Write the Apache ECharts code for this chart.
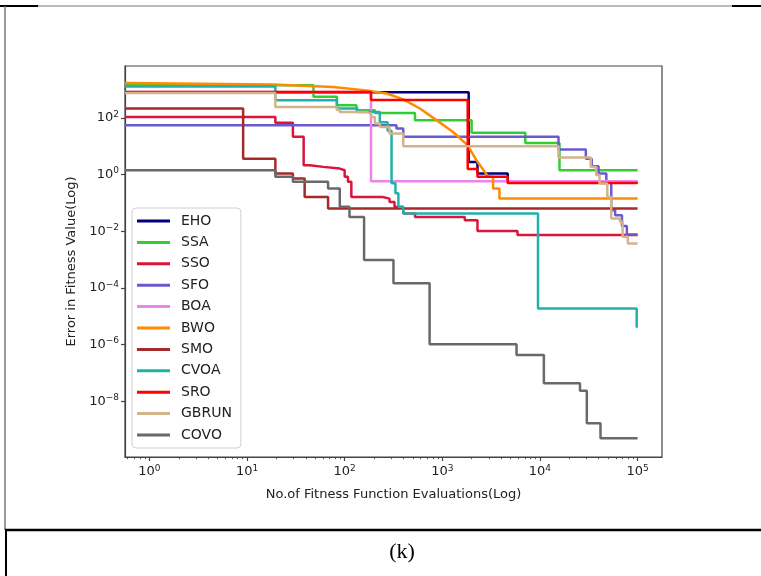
<!DOCTYPE html>
<html><head><meta charset="utf-8">
<script src="https://cdn.jsdelivr.net/npm/echarts@6/dist/echarts.min.js"></script>
<style>html,body{margin:0;padding:0;background:#fff}#c{width:761px;height:576px}</style>
</head><body><div id="c"></div>
<script>
// ---- data (x = fitness evaluations, y = error) ----
const names = ['EHO','SSA','SSO','SFO','BOA','BWO','SMO','CVOA','SRO','GBRUN','COVO'];
const colors = ['#000080','#32CD32','#DC143C','#6A5ACD','#EE82EE','#FF8C00','#A52A2A','#20B2AA','#FF0000','#D2B48C','#696969'];
const EHO  = [[0.5623,794],[1862,2.75],[2291,1.08],[4677,0.525],[100000,0.525]];
const SSA  = [[0.5623,1413],[47.9,550],[83.2,277],[132,186],[204,148],[525,83],[1995,29.5],[7079,13],[15849,1.41],[100000,1.41]];
const SSO  = [[0.5623,107],[19.5,67.6],[29.5,21.4],[38,2.14],[44,1.86],[60.3,1.62],[89,1.41],[100,0.83],[108,0.55],[117,0.162],[245,0.141],[288,0.107],[324,0.072],[398,0.0417],[525,0.0316],[1698,0.0245],[2291,0.0102],[5888,0.0074],[100000,0.0074]];
const SFO  = [[0.5623,55],[339,41.7],[398,21.4],[15488,7.6],[29512,3.63],[33884,1.95],[39811,1.08],[47863,0.55],[53703,0.055],[58884,0.0363],[69183,0.0151],[77625,0.0076],[100000,0.0076]];
const BOA  = [[0.5623,813],[186,0.575],[100000,0.575]];
const BWO  = [[0.5623,1698],[18.6,1514],[75.9,1230],[166,933],[269,724],[398,447],[589,214],[871,83.2],[1288,31.6],[1820,10.7],[2239,3.16],[2951,0.83],[3311,0.83],[3311,0.324],[3846,0.324],[3846,0.141],[100000,0.141]];
const SMO  = [[0.5623,214],[9.12,3.63],[19.5,1.08],[29.5,0.72],[38.9,0.162],[67.6,0.063],[100000,0.063]];
const CVOA = [[0.5623,1288],[19.5,417],[83.2,214],[135,162],[229,70],[275,35],[302,0.49],[331,0.219],[355,0.0724],[398,0.0417],[9550,1.86e-5],[97950,4.17e-6],[100000,4.17e-6]];
const SRO  = [[0.5623,813],[186,427],[1820,1.55],[2291,0.83],[4677,0.50],[100000,0.50]];
const GBRUN= [[0.5623,759],[19.5,240],[83,195],[89,162],[166,141],[186,107],[204,63],[229,48],[288,28.2],[398,10],[15488,3.98],[33113,1.86],[37600,0.955],[40738,0.48],[48978,0.162],[53703,0.0282],[66069,0.0214],[70300,0.0063],[79433,0.0037],[100000,0.0037]];
const COVO = [[0.5623,1.41],[19.5,0.83],[29.5,0.55],[67.6,0.324],[89.1,0.0724],[112,0.0316],[158,9.55e-4],[316,1.45e-4],[741,1.02e-6],[5754,4.27e-7],[10965,4.27e-8],[25704,2.34e-8],[30200,1.66e-9],[41687,4.9e-10],[100000,4.9e-10]];
const stepped = [true,true,true,true,true,false,true,true,true,true,true];

const xTicks = [1,10,100,1000,10000,100000];
const yTicks = [1e-8,1e-6,1e-4,1e-2,1,100];
const xMinorSubs = [2,3,4,5,6,7,8,9];
const xRange = [Math.pow(10,-0.25), Math.pow(10,5.25)];
const yRange = [Math.pow(10,-9.97), Math.pow(10,3.83)];

const allData = [EHO,SSA,SSO,SFO,BOA,BWO,SMO,CVOA,SRO,GBRUN,COVO];
const xMinor = [];
[0.1,1,10,100,1000,10000,100000].forEach(d => xMinorSubs.forEach(s => { const v = d*s; if (v > xRange[0] && v < xRange[1]) xMinor.push(v); }));

const FONT = 'DejaVu Sans';
const supMap = {'0':'⁰','1':'¹','2':'²','3':'³','4':'⁴','5':'⁵','6':'⁶','7':'⁷','8':'⁸','9':'⁹','-':'\u2212'};
function powLabel(v){
  const e = Math.round(Math.log10(v));
  if (Math.abs(Math.log10(v) - e) > 1e-6) return '';
  return '{b|10}{s|' + String(e).replace('-', '\u2212') + '}';
}
const richLab = {
  b:{fontSize:13, fontFamily:FONT, color:'#222'},
  s:{fontSize:9, fontFamily:FONT, color:'#222', padding:[0,0,7,0]}
};

const chart = echarts.init(document.getElementById('c'), null, {renderer:'canvas'});
chart.setOption({
  animation:false,
  backgroundColor:'#fff',
  grid:{left:125, top:66, width:537, height:391, show:true, borderColor:'#444', borderWidth:1.2, backgroundColor:'#fff'},
  legend:{
    orient:'vertical', left:132, top:208, padding:[5,9,5,5], itemGap:5.4,
    itemWidth:33, itemHeight:3, icon:'rect',
    borderColor:'#d0d0d0', borderWidth:1, borderRadius:4, backgroundColor:'rgba(255,255,255,0.85)',
    textStyle:{fontSize:14, lineHeight:16, fontFamily:FONT, color:'#222', padding:[0,0,0,6]},
    data:names
  },
  xAxis:[{
    type:'log', logBase:10, min:xRange[0], max:xRange[1],
    name:'No.of Fitness Function Evaluations(Log)', nameLocation:'middle', nameGap:31,
    nameTextStyle:{fontSize:13, fontFamily:FONT, color:'#222'},
    axisLine:{show:true, lineStyle:{color:'#444', width:1.2}},
    axisTick:{show:true, length:4, customValues:xTicks, lineStyle:{color:'#444', width:1.2}},
    axisLabel:{customValues:xTicks, formatter:powLabel, rich:richLab, margin:7},
    splitLine:{show:false}, minorTick:{show:false}
  },{
    type:'log', logBase:10, min:xRange[0], max:xRange[1], gridIndex:0, position:'bottom',
    axisLine:{show:false},
    axisTick:{show:true, length:2.2, customValues:xMinor, lineStyle:{color:'#444', width:0.9}},
    axisLabel:{show:false}, splitLine:{show:false}
  }],
  yAxis:{
    type:'log', logBase:10, min:yRange[0], max:yRange[1],
    name:'Error in Fitness Value(Log)', nameLocation:'middle', nameGap:26,
    nameTextStyle:{fontSize:13, fontFamily:FONT, color:'#222'},
    axisLine:{show:true, lineStyle:{color:'#444', width:1.2}},
    axisTick:{show:true, length:4, customValues:yTicks, lineStyle:{color:'#444', width:1.2}},
    axisLabel:{customValues:yTicks, formatter:powLabel, rich:richLab, margin:6},
    splitLine:{show:false}
  },
  series: names.map((n,i) => ({
    name:n, type:'line', data:allData[i], step: stepped[i] ? 'end' : false,
    showSymbol:false, symbol:'none', color:colors[i],
    lineStyle:{width:2.5, color:colors[i]}, xAxisIndex:0, yAxisIndex:0
  })),
  graphic:[
    {type:'line', shape:{x1:0,y1:6,x2:38,y2:6}, style:{stroke:'#000', lineWidth:2}},
    {type:'line', shape:{x1:38,y1:6,x2:732,y2:6}, style:{stroke:'#777', lineWidth:1}},
    {type:'line', shape:{x1:732,y1:6,x2:761,y2:6}, style:{stroke:'#000', lineWidth:2}},
    {type:'line', shape:{x1:5,y1:6,x2:5,y2:530}, style:{stroke:'#777', lineWidth:1.5}},
    {type:'line', shape:{x1:6,y1:530,x2:6,y2:576}, style:{stroke:'#000', lineWidth:2}},
    {type:'line', shape:{x1:5,y1:530,x2:761,y2:530}, style:{stroke:'#000', lineWidth:2.5}},
    {type:'text', x:402, y:552, style:{text:'(k)', font:'22px "Liberation Serif"', align:'center', verticalAlign:'middle', fill:'#000'}}
  ]
});
</script></body></html>
